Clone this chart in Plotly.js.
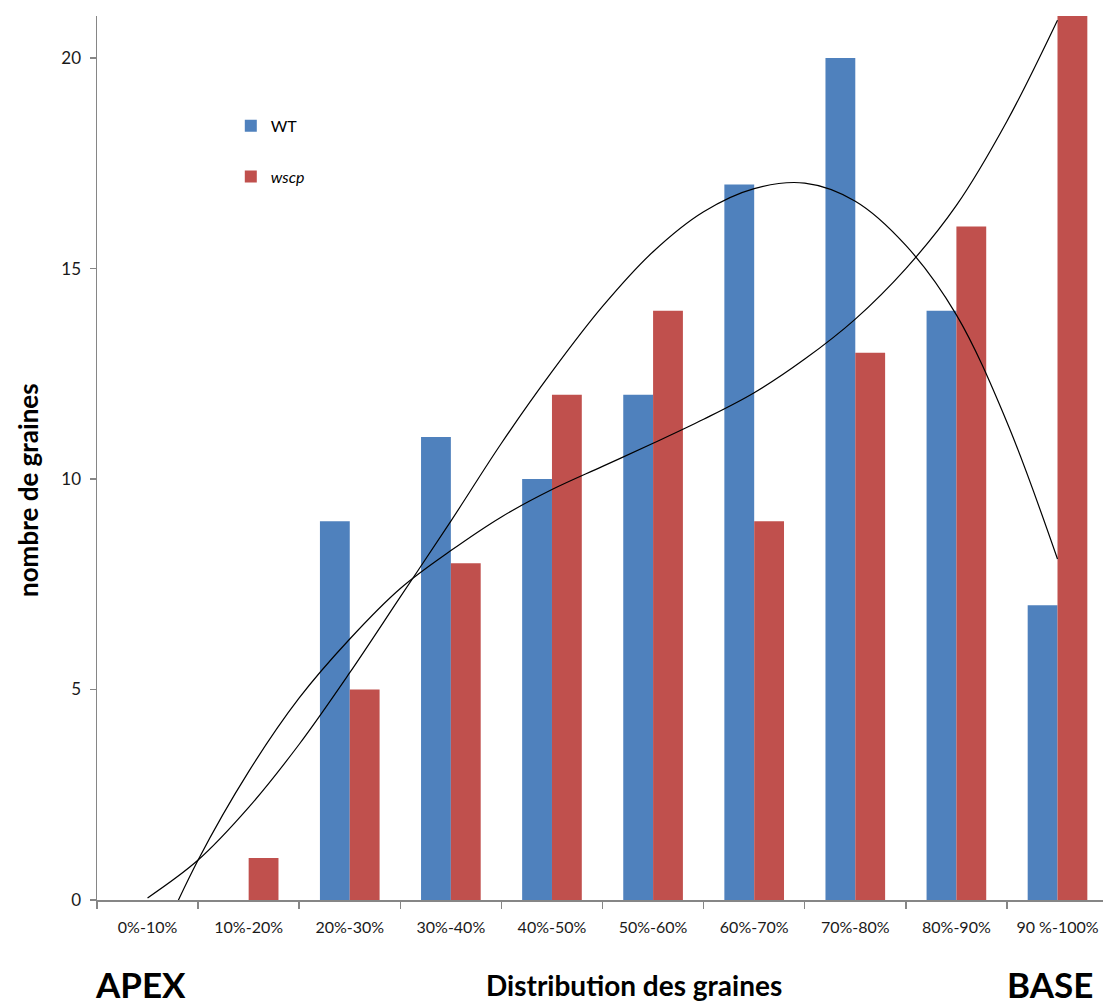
<!DOCTYPE html>
<html>
<head>
<meta charset="utf-8">
<script src="https://cdn.plot.ly/plotly-3.0.1.min.js"></script>
<style>
  html, body { margin: 0; padding: 0; background: #ffffff; }
  #chart { width: 1103px; height: 1004px; }
</style>
</head>
<body>
<div id="chart"></div>
<script>
// ---- Data ----
const categories = ['0%-10%', '10%-20%', '20%-30%', '30%-40%', '40%-50%',
                    '50%-60%', '60%-70%', '70%-80%', '80%-90%', '90 %-100%'];
const wtValues   = [0, 0, 9, 11, 10, 12, 17, 20, 14, 7];
const wscpValues = [0, 1, 5, 8, 12, 14, 9, 13, 16, 21];
// Trend curves, every half category (0 = first category centre)
const trendPos  = [0, 0.5, 1, 1.5, 2, 2.5, 3, 3.5, 4, 4.5, 5, 5.5, 6, 6.5, 7, 7.5, 8, 8.5, 9];
const wtTrend   = [0.05, 0.95, 2.2, 3.7, 5.4, 7.2, 9.0, 10.85, 12.55, 14.1,
                   15.4, 16.35, 16.9, 17.03, 16.6, 15.55, 13.9, 11.35, 8.1];
const wscpTrend = [-1.6, 0.95, 3.05, 4.8, 6.2, 7.4, 8.3, 9.1, 9.75, 10.3,
                   10.85, 11.42, 12.05, 12.85, 13.8, 15.0, 16.5, 18.5, 20.9];
const yTicks = [0, 5, 10, 15, 20];

const FONT = 'Lato, "Open Sans", "DejaVu Sans", sans-serif';
const BLUE = '#4F81BD';
const RED = '#C0504D';

const traces = [
  {
    type: 'bar', name: 'WT', x: categories, y: wtValues,
    marker: { color: BLUE },
    legendgroup: 'a'
  },
  {
    type: 'bar', name: '<i>wscp</i>', x: categories, y: wscpValues,
    marker: { color: RED },
    legendgroup: 'b'
  },
  {
    type: 'scatter', mode: 'lines', x: trendPos, y: wtTrend, xaxis: 'x2', yaxis: 'y',
    line: { color: '#000000', width: 1.2, shape: 'spline', smoothing: 1 },
    showlegend: false, hoverinfo: 'skip'
  },
  {
    type: 'scatter', mode: 'lines', x: trendPos, y: wscpTrend, xaxis: 'x2', yaxis: 'y',
    line: { color: '#000000', width: 1.2, shape: 'spline', smoothing: 1 },
    showlegend: false, hoverinfo: 'skip'
  }
];

const XRANGE = [-0.5, 9.45];

function paperX(px) { return (px - 97) / 1006; }
function paperY(py) { return (900 - py) / 884; }

const layout = {
  width: 1103, height: 1004,
  margin: { l: 97, r: 0, t: 16, b: 104, pad: 0 },
  paper_bgcolor: '#ffffff', plot_bgcolor: '#ffffff',
  font: { family: FONT, color: '#000000' },
  barmode: 'group', bargap: 0.41, bargroupgap: 0,
  showlegend: true,
  legend: {
    x: 0.133, y: 0.895, xanchor: 'left', yanchor: 'top',
    bgcolor: 'rgba(0,0,0,0)',
    font: { family: FONT, size: 16, color: '#000000' },
    traceorder: 'grouped', tracegroupgap: 27
  },
  xaxis: {
    type: 'category', range: XRANGE,
    showline: true, linecolor: '#868686', linewidth: 1.5,
    ticks: 'outside', tickson: 'boundaries', ticklen: 7, tickcolor: '#868686', tickwidth: 1.5,
    tickfont: { family: FONT, size: 16, color: '#1a1a1a' },
    ticklabelstandoff: 12,
    showgrid: false, zeroline: false, fixedrange: true
  },
  xaxis2: {
    type: 'linear', range: XRANGE, overlaying: 'x', visible: false, fixedrange: true
  },
  yaxis: {
    range: [0, 21],
    tickvals: yTicks, ticktext: yTicks.map(String),
    showline: true, linecolor: '#868686', linewidth: 1.5,
    ticks: 'outside', ticklen: 6, tickcolor: '#868686', tickwidth: 1.5,
    tickfont: { family: FONT, size: 17, color: '#1a1a1a' },
    ticklabelstandoff: 5,
    showgrid: false, zeroline: false, fixedrange: true
  },
  annotations: [
    { text: '<b>nombre de graines</b>', xref: 'paper', yref: 'paper',
      x: paperX(28), y: paperY(490), xanchor: 'center', yanchor: 'middle', textangle: -90,
      showarrow: false, font: { family: FONT, size: 26, color: '#000000' } },
    { text: '<b>Distribution des graines</b>', xref: 'paper', yref: 'paper',
      x: paperX(634), y: paperY(985), xanchor: 'center', yanchor: 'middle',
      showarrow: false, font: { family: FONT, size: 28, color: '#000000' } },
    { text: '<b>APEX</b>', xref: 'paper', yref: 'paper',
      x: paperX(140), y: paperY(984), xanchor: 'center', yanchor: 'middle',
      showarrow: false, font: { family: FONT, size: 35, color: '#000000' } },
    { text: '<b>BASE</b>', xref: 'paper', yref: 'paper',
      x: paperX(1050), y: paperY(984), xanchor: 'center', yanchor: 'middle',
      showarrow: false, font: { family: FONT, size: 35, color: '#000000' } }
  ]
};

Plotly.newPlot('chart', traces, layout, { displayModeBar: false, staticPlot: true });
</script>
</body>
</html>
